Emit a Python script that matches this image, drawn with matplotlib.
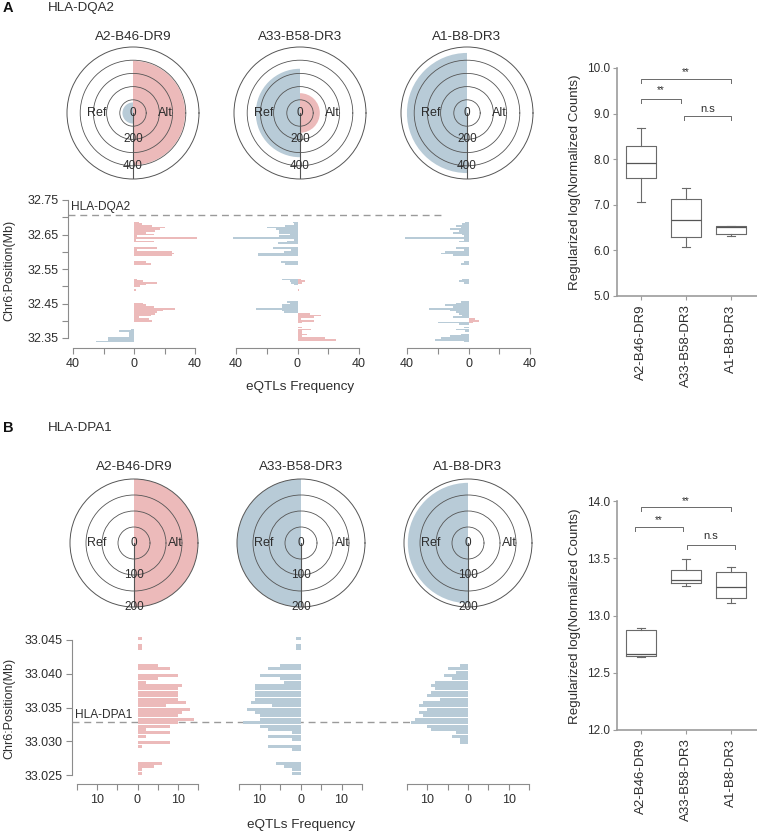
import numpy as np
import matplotlib
matplotlib.use('Agg')
import matplotlib.pyplot as plt

plt.rcParams['font.family'] = ['Liberation Sans', 'DejaVu Sans']

# ---------------- data ----------------
haplotypes = ['A2-B46-DR9', 'A33-B58-DR3', 'A1-B8-DR3']

# allele-specific eQTL totals (polar plots)
dqa2_ref_total = [80, 335, 455]
dqa2_alt_total = [395, 150, 0]
dpa1_ref_total = [0, 200, 188]
dpa1_alt_total = [200, 0, 0]

# HLA-DQA2 eQTL frequency by position (Mb)
dqa2_h1_alt_pos = [32.685, 32.680, 32.675, 32.670, 32.665, 32.660, 32.655, 32.650, 32.645, 32.640, 32.635, 32.630,
                   32.610, 32.605, 32.600, 32.595, 32.590, 32.570, 32.565,
                   32.520, 32.515, 32.510, 32.505, 32.500, 32.490,
                   32.450, 32.445, 32.440, 32.435, 32.430, 32.425, 32.420, 32.415, 32.410, 32.405, 32.400]
dqa2_h1_alt_n = [3, 5, 12, 20, 17, 14, 8, 13, 2, 41, 1, 13,
                 15, 2, 25, 26, 25, 8, 11,
                 2, 6, 15, 8, 4, 1,
                 6, 8, 13, 27, 19, 15, 14, 11, 3, 10, 12]
dqa2_h1_ref_pos = [32.375, 32.370, 32.365, 32.360, 32.355, 32.350, 32.345, 32.340]
dqa2_h1_ref_n = [2, 10, 3, 3, 3, 17, 17, 25]

dqa2_h2_ref_pos = [32.685, 32.680, 32.675, 32.670, 32.665, 32.660, 32.655, 32.650, 32.645, 32.640, 32.635, 32.630, 32.625,
                   32.610, 32.605, 32.600, 32.595, 32.590, 32.570, 32.565,
                   32.520, 32.515, 32.510, 32.505,
                   32.455, 32.450, 32.445, 32.440, 32.435, 32.430, 32.425]
dqa2_h2_ref_n = [3, 2, 8, 20, 14, 12, 12, 5, 12, 42, 2, 7, 13,
                 16, 4, 9, 26, 26, 11, 8,
                 10, 5, 4, 2,
                 7, 5, 10, 10, 27, 10, 9]
dqa2_h2_alt_pos = [32.520, 32.515, 32.510, 32.490, 32.420, 32.415, 32.410, 32.405, 32.400, 32.395,
                   32.380, 32.375, 32.370, 32.365, 32.360, 32.355, 32.350, 32.345]
dqa2_h2_alt_n = [2, 5, 3, 1, 8, 15, 11, 2, 11, 3,
                 3, 9, 3, 3, 6, 3, 18, 25]

dqa2_h3_ref_pos = [32.685, 32.680, 32.675, 32.670, 32.665, 32.660, 32.655, 32.650, 32.645, 32.640, 32.635, 32.630,
                   32.610, 32.605, 32.600, 32.595, 32.590, 32.570, 32.565,
                   32.520, 32.515, 32.510,
                   32.455, 32.450, 32.445, 32.440, 32.435, 32.430, 32.425, 32.420, 32.415, 32.410,
                   32.395, 32.390, 32.380, 32.375, 32.370, 32.360, 32.355, 32.350, 32.345, 32.340]
dqa2_h3_ref_n = [2, 4, 8, 5, 12, 6, 10, 4, 3, 41, 3, 6,
                 8, 3, 15, 18, 10, 3, 5,
                 4, 6, 3,
                 5, 8, 15, 10, 26, 12, 8, 6, 4, 10,
                 20, 6, 3, 8, 2, 5, 12, 18, 22, 3]
dqa2_h3_alt_pos = [32.405, 32.400, 32.395]
dqa2_h3_alt_n = [4, 7, 3]

# HLA-DPA1 eQTL frequency by position (Mb)
dpa1_h1_alt_pos = [33.04525, 33.04425, 33.04375, 33.04125, 33.04075, 33.03975, 33.03925, 33.03875, 33.03825,
                   33.03775, 33.03725, 33.03675, 33.03625, 33.03575, 33.03525, 33.03475, 33.03425, 33.03375,
                   33.03325, 33.03275, 33.03225, 33.03175, 33.03125, 33.03075, 33.02975, 33.02925,
                   33.02675, 33.02625, 33.02575, 33.02525]
dpa1_h1_alt_n = [1, 1, 1, 5, 8, 10, 5, 2, 11,
                 10, 10, 10, 10, 12, 7, 13, 11, 10,
                 14, 10, 8, 2, 8, 2, 8, 1,
                 6, 4, 1, 1]
dpa1_h1_ref_pos = []
dpa1_h1_ref_n = []

dpa1_h2_ref_pos = [33.04525, 33.04425, 33.04375, 33.04125, 33.04075, 33.03975, 33.03925, 33.03875, 33.03825,
                   33.03775, 33.03725, 33.03675, 33.03625, 33.03575, 33.03525, 33.03475, 33.03425, 33.03375,
                   33.03325, 33.03275, 33.03225, 33.03175, 33.03125, 33.03075, 33.03025, 33.02925, 33.02875,
                   33.02675, 33.02625, 33.02575, 33.02525]
dpa1_h2_ref_n = [1, 1, 1, 5, 8, 10, 5, 4, 11,
                 11, 11, 11, 11, 12, 7, 13, 11, 10,
                 10, 14, 10, 8, 2, 8, 2, 8, 2,
                 6, 4, 2, 2]
dpa1_h2_alt_pos = []
dpa1_h2_alt_n = []

dpa1_h3_ref_pos = [33.04125, 33.04075, 33.04025, 33.03975, 33.03925, 33.03875, 33.03825, 33.03775, 33.03725,
                   33.03675, 33.03625, 33.03575, 33.03525, 33.03475, 33.03425, 33.03375, 33.03325, 33.03275,
                   33.03225, 33.03175, 33.03125, 33.03075, 33.03025, 33.02975]
dpa1_h3_ref_n = [2, 5, 3, 6, 4, 8, 9, 8, 9,
                 10, 7, 11, 12, 10, 12, 11, 13, 14,
                 10, 9, 3, 4, 2, 2]
dpa1_h3_alt_pos = []
dpa1_h3_alt_n = []

gene_pos = {'HLA-DQA2': 32.706, 'HLA-DPA1': 33.0328}

# expression box plots (five-number summaries)
dqa2_box_lo = [7.06, 6.08, 6.31]
dqa2_box_q1 = [7.59, 6.29, 6.35]
dqa2_box_med = [7.92, 6.67, 6.51]
dqa2_box_q3 = [8.30, 7.12, 6.53]
dqa2_box_hi = [8.68, 7.36, 6.54]

dpa1_box_lo = [12.64, 13.26, 13.11]
dpa1_box_q1 = [12.645, 13.28, 13.15]
dpa1_box_med = [12.665, 13.31, 13.25]
dpa1_box_q3 = [12.87, 13.40, 13.38]
dpa1_box_hi = [12.89, 13.49, 13.42]

sig_labels = ['**', '**', 'n.s']

# ---------------- drawing ----------------
W, H = 757, 839
fig = plt.figure(figsize=(W / 100, H / 100), dpi=100)
fig.patch.set_facecolor('white')

TXT = '#2e2e2e'
PINK = '#ecbaba'
BLUE = '#b8cbd7'
LINE = '#555555'
AXC = '#8c8c8c'


def rect(x0, y0, x1, y1):
    return [x0 / W, 1 - y1 / H, (x1 - x0) / W, (y1 - y0) / H]


def ftext(x, y, s, **kw):
    kw.setdefault('color', TXT)
    fig.text(x / W, 1 - y / H, s, **kw)


def polar(cx, cy, R, rmax, rings, ref, alt, title, ring_lab, ref_r, alt_r, title_y):
    ax = fig.add_axes(rect(cx - R, cy - R, cx + R, cy + R), projection='polar')
    ax.bar([np.pi], [ref], width=np.pi, color=BLUE, linewidth=0, zorder=1)
    ax.bar([0.0], [alt], width=np.pi, color=PINK, linewidth=0, zorder=1)
    ax.set_ylim(0, rmax)
    ax.set_rticks(rings)
    ax.set_yticklabels([])
    ax.set_xticks([])
    ax.tick_params(axis='both', length=0, width=0)
    ax.set_axisbelow(False)
    ax.yaxis.grid(True, color=LINE, lw=0.6)
    ax.spines['polar'].set_color(LINE)
    ax.spines['polar'].set_linewidth(0.7)
    ax.plot([1.5 * np.pi, 1.5 * np.pi], [0, rmax], color=LINE, lw=0.8, zorder=3)
    ax.text(0, 0, '0', ha='center', va='center', fontsize=8.5, color=TXT, zorder=4)
    for r, lab in ring_lab:
        ax.text(1.5 * np.pi, r, lab, ha='center', va='center', fontsize=8.5, color=TXT, zorder=4)
    ax.text(np.pi, ref_r, 'Ref', ha='center', va='center', fontsize=9, color=TXT, zorder=4)
    ax.text(0, alt_r, 'Alt', ha='center', va='center', fontsize=9, color=TXT, zorder=4)
    ftext(cx, title_y, title, ha='center', va='center', fontsize=9.7)


def hist(xneg, xpos, L, yfun, ytop, ybot, alt_pos, alt_n, ref_pos, ref_n, bh,
         xticks, xlabels, pad=5):
    s = 2 * L / (xpos - xneg)
    ax = fig.add_axes(rect(xneg - pad, ytop, xpos + pad, ybot))
    ax.set_xlim(-L - pad * s, L + pad * s)
    ax.set_ylim(yfun(ybot), yfun(ytop))
    ax.barh(alt_pos, alt_n, height=bh, color=PINK, linewidth=0)
    ax.barh(ref_pos, [-v for v in ref_n], height=bh, color=BLUE, linewidth=0)
    for sp in ['top', 'right', 'left']:
        ax.spines[sp].set_visible(False)
    ax.spines['bottom'].set_bounds(-L, L)
    ax.spines['bottom'].set_color(AXC)
    ax.set_xticks(xticks)
    ax.set_xticklabels(xlabels)
    ax.tick_params(axis='x', length=4, width=0.8, color=AXC, labelsize=9, labelcolor=TXT, pad=3)
    ax.tick_params(axis='y', left=False, labelleft=False)
    ax.patch.set_alpha(0)
    return ax, s


def left_axis(ax, yticks, ylabels, lo, hi):
    ax.spines['left'].set_visible(True)
    ax.spines['left'].set_bounds(lo, hi)
    ax.spines['left'].set_color(AXC)
    ax.set_yticks(yticks)
    ax.set_yticklabels(ylabels)
    ax.tick_params(axis='y', left=True, labelleft=True, length=4, width=0.8, color=AXC,
                   labelsize=9, labelcolor=TXT, pad=3)


def box(ytop, ybot, ylo, yhi, yt, lo, q1, med, q3, hi, brackets, ylab_y):
    ax = fig.add_axes(rect(617, ytop, 757, ybot))
    stats = [dict(med=m, q1=a, q3=b, whislo=l, whishi=h, label=n)
             for l, a, m, b, h, n in zip(lo, q1, med, q3, hi, haplotypes)]
    BC = '#6a6a6a'
    ax.bxp(stats, positions=[1, 2, 3], widths=0.66, showfliers=False, capwidths=0.18,
           boxprops=dict(color=BC, lw=0.8), whiskerprops=dict(color=BC, lw=0.8),
           capprops=dict(color=BC, lw=0.8), medianprops=dict(color='#555555', lw=0.9))
    ax.set_xlim(1 - 24 / 45, 3 + 26 / 45)
    ax.set_ylim(ylo, yhi)
    ax.set_yticks(yt)
    ax.set_yticklabels(['%.1f' % v for v in yt])
    ax.set_xticks([1, 2, 3])
    ax.set_xticklabels(haplotypes, rotation=90, fontsize=9.5, color=TXT)
    for sp in ['top', 'right']:
        ax.spines[sp].set_visible(False)
    for sp in ['left', 'bottom']:
        ax.spines[sp].set_color('#9c9c9c')
        ax.spines[sp].set_linewidth(1.2)
    ax.tick_params(axis='y', length=3, color='#9c9c9c', labelsize=8.5, labelcolor=TXT, pad=2)
    ax.tick_params(axis='x', length=3, color='#9c9c9c', pad=3)
    d = (yhi - ylo) * 0.018
    for (x1, x2, y, ly), lab in zip(brackets, sig_labels):
        ax.plot([x1, x1, x2, x2], [y - d, y, y, y - d], color='#6a6a6a', lw=0.7, clip_on=False)
        ax.text((x1 + x2) / 2, ly, lab, ha='center', va='center',
                fontsize=7 if lab == '**' else 8, color=TXT)
    ftext(575, ylab_y, 'Regularized log(Normalized Counts)', rotation=90,
          ha='center', va='center', fontsize=9.6)
    return ax


# ---- Panel headers ----
ftext(8, 8, 'A', fontsize=10.5, fontweight='bold', ha='center', va='center', color='#111111')
ftext(48, 8, 'HLA-DQA2', fontsize=9.6, ha='left', va='center')
ftext(8, 428, 'B', fontsize=10.5, fontweight='bold', ha='center', va='center', color='#111111')
ftext(48, 428, 'HLA-DPA1', fontsize=9.6, ha='left', va='center')

# ---- Panel A polar ----
A_cx = [133, 300, 467]
for i in range(3):
    polar(A_cx[i], 113, 66, 500, [100, 200, 300, 400], dqa2_ref_total[i], dqa2_alt_total[i],
          haplotypes[i], [(200, '200'), (400, '400')], 275, 245, 37)

# ---- Panel B polar ----
B_cx = [134, 301, 468]
for i in range(3):
    polar(B_cx[i], 543, 64, 200, [50, 100, 150], dpa1_ref_total[i], dpa1_alt_total[i],
          haplotypes[i], [(100, '100'), (200, '200')], 118, 128, 467)

# ---- Panel A histograms ----
yA = lambda y: 32.75 - (y - 200) / 345.0
A_hx = [(73, 195), (236, 359), (407, 530)]
A_series = [(dqa2_h1_alt_pos, dqa2_h1_alt_n, dqa2_h1_ref_pos, dqa2_h1_ref_n),
            (dqa2_h2_alt_pos, dqa2_h2_alt_n, dqa2_h2_ref_pos, dqa2_h2_ref_n),
            (dqa2_h3_alt_pos, dqa2_h3_alt_n, dqa2_h3_ref_pos, dqa2_h3_ref_n)]
for i in range(3):
    ap, an, rp, rn = A_series[i]
    ax, s = hist(A_hx[i][0], A_hx[i][1], 40, yA, 196, 348, ap, an, rp, rn, 0.0049,
                 [-40, -20, 0, 20, 40], ['40', '', '0', '', '40'])
    if i == 0:
        ticks = [32.35, 32.40, 32.45, 32.50, 32.55, 32.60, 32.65, 32.70, 32.75]
        labs = ['32.35', '', '32.45', '', '32.55', '', '32.65', '', '32.75']
        left_axis(ax, ticks, labs, 32.35, 32.75)
        xl = ax.get_xlim()[0]
        xr = -40 + (443 - 73) * s
        ax.plot([xl, xr], [gene_pos['HLA-DQA2']] * 2, color='#9a9a9a', lw=1.0,
                ls=(0, (5, 3.5)), clip_on=False, zorder=0)
        ax.text(-40 + (71 - 73) * s, yA(207), 'HLA-DQA2', ha='left', va='center',
                fontsize=8.6, color=TXT)
ftext(300, 387, 'eQTLs Frequency', ha='center', va='center', fontsize=9.7)
ftext(9, 270, 'Chr6:Position(Mb)', rotation=90, ha='center', va='center', fontsize=9)

# ---- Panel B histograms ----
yB = lambda y: 33.045 - (y - 640) / 6750.0
B_hx = [(77, 198), (239, 362), (407, 529)]
B_series = [(dpa1_h1_alt_pos, dpa1_h1_alt_n, dpa1_h1_ref_pos, dpa1_h1_ref_n),
            (dpa1_h2_alt_pos, dpa1_h2_alt_n, dpa1_h2_ref_pos, dpa1_h2_ref_n),
            (dpa1_h3_alt_pos, dpa1_h3_alt_n, dpa1_h3_ref_pos, dpa1_h3_ref_n)]
for i in range(3):
    ap, an, rp, rn = B_series[i]
    ax, s = hist(B_hx[i][0], B_hx[i][1], 15, yB, 636, 784, ap, an, rp, rn, 0.00044,
                 [-15, -10, -5, 0, 5, 10, 15], ['', '10', '', '0', '', '10', ''])
    if i == 0:
        ticks = [33.025, 33.030, 33.035, 33.040, 33.045]
        left_axis(ax, ticks, ['%.3f' % t for t in ticks], 33.025, 33.045)
        xl = ax.get_xlim()[0]
        xr = -15 + (443 - 77) * s
        ax.plot([xl, xr], [gene_pos['HLA-DPA1']] * 2, color='#9a9a9a', lw=1.0,
                ls=(0, (5, 3.5)), clip_on=False, zorder=0)
        ax.text(-15 + (75 - 77) * s, yB(715), 'HLA-DPA1', ha='left', va='center',
                fontsize=8.6, color=TXT)
ftext(301, 825, 'eQTLs Frequency', ha='center', va='center', fontsize=9.7)
ftext(9, 708, 'Chr6:Position(Mb)', rotation=90, ha='center', va='center', fontsize=9)

# ---- Box plots ----
box(68, 296, 5.0, 10.0, [5.0, 6.0, 7.0, 8.0, 9.0, 10.0],
    dqa2_box_lo, dqa2_box_q1, dqa2_box_med, dqa2_box_q3, dqa2_box_hi,
    [(1.0, 3.0, 9.76, 9.90), (1.0, 1.88, 9.32, 9.51), (1.95, 3.0, 8.94, 9.10)], 182)
box(501, 730, 12.0, 14.0, [12.0, 12.5, 13.0, 13.5, 14.0],
    dpa1_box_lo, dpa1_box_q1, dpa1_box_med, dpa1_box_q3, dpa1_box_hi,
    [(1.0, 3.0, 13.945, 14.0), (0.87, 1.93, 13.77, 13.83), (2.03, 3.08, 13.62, 13.69)], 616)

fig.savefig('out.png', dpi=100, facecolor='white')
